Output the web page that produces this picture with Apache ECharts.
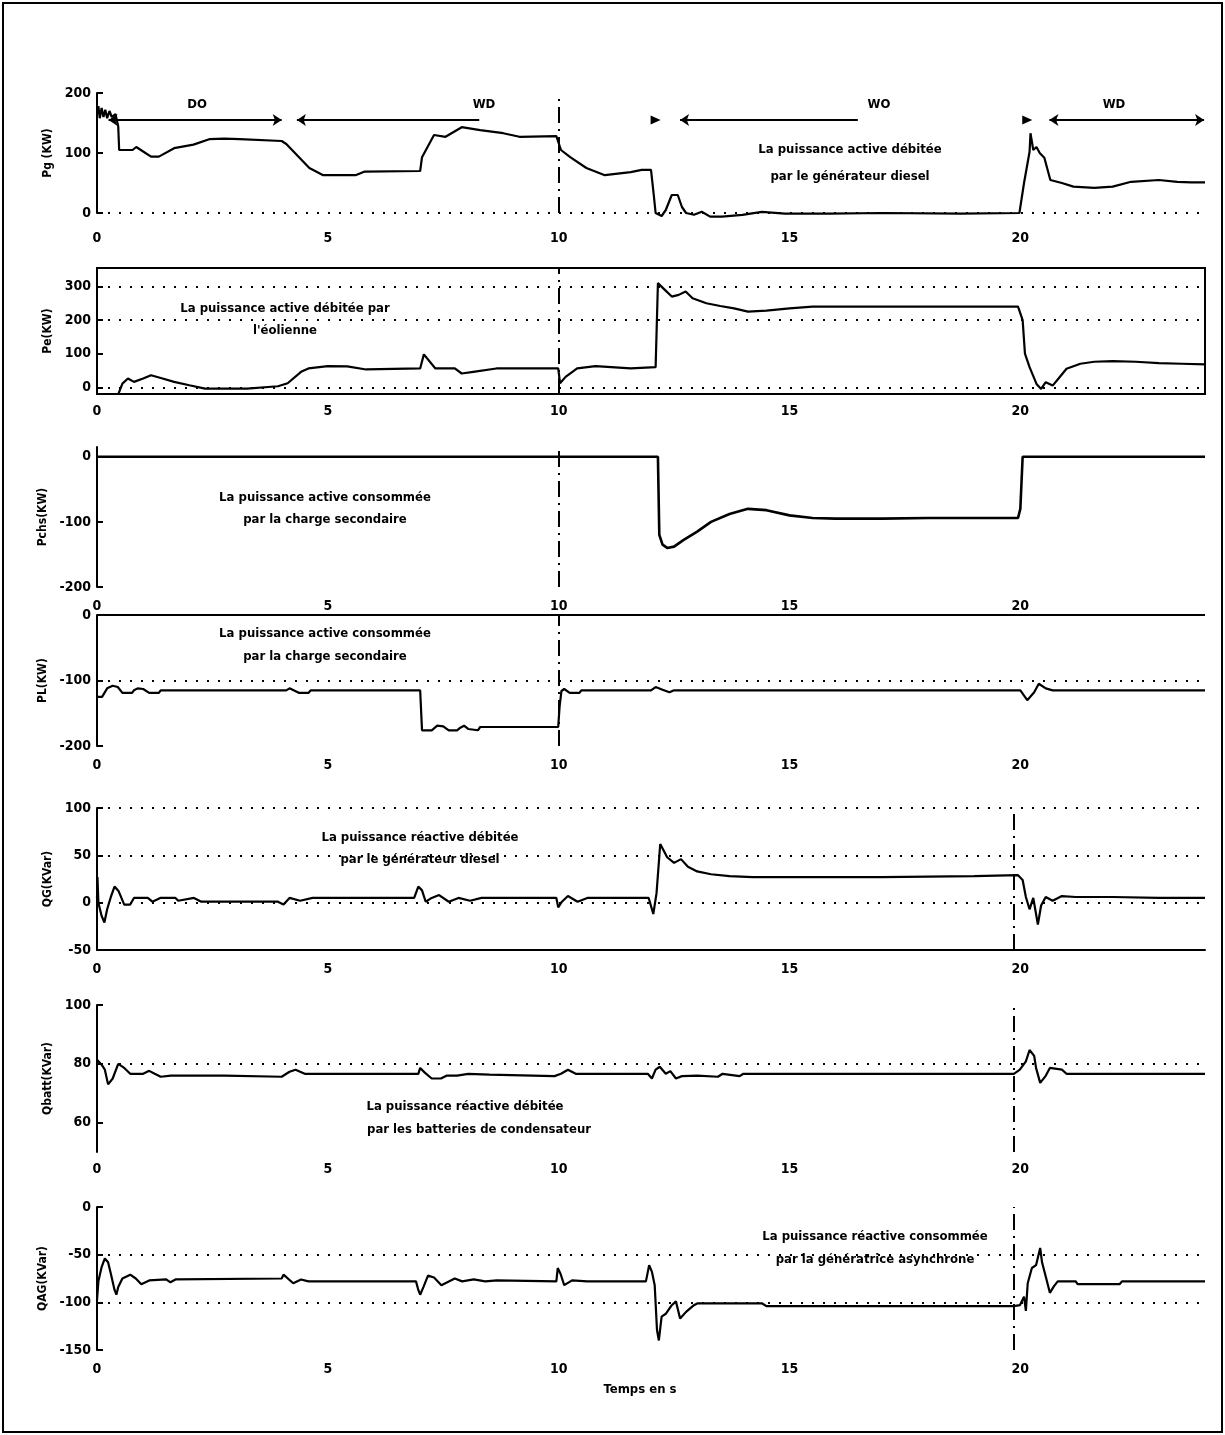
<!DOCTYPE html>
<html>
<head>
<meta charset="utf-8">
<title>Puissances actives et réactives</title>
<script src="https://cdn.jsdelivr.net/npm/echarts@6/dist/echarts.min.js"></script>
<style>
    html, body { margin: 0; padding: 0; background: #fff; }
    #main { width: 1225px; height: 1435px; }
</style>
</head>
<body>
<div id="main"></div>
<script>
// temps (s) et valeurs
var pgT = [0, 0.03, 0.06, 0.1, 0.14, 0.18, 0.22, 0.27, 0.32, 0.4, 0.46, 0.48, 0.55, 0.77, 0.85, 0.95, 1.17, 1.34, 1.67, 2.09, 2.43, 2.76, 3.09, 4.0, 4.1, 4.35, 4.6, 4.9, 5.6, 5.8, 7.0, 7.04, 7.3, 7.55, 7.9, 8.3, 8.8, 9.15, 9.95, 10.05, 10.25, 10.6, 11.0, 11.56, 11.8, 12.0, 12.06, 12.1, 12.23, 12.32, 12.45, 12.58, 12.67, 12.76, 12.93, 13.1, 13.28, 13.54, 13.98, 14.4, 14.9, 15.87, 17.0, 18.7, 19.98, 20.08, 20.2, 20.22, 20.28, 20.35, 20.42, 20.52, 20.65, 20.9, 21.15, 21.6, 22.0, 22.4, 23.0, 23.4, 23.7, 24.0];
var pgV = [165, 178, 158, 175, 160, 172, 158, 170, 160, 165, 144, 105, 105, 105, 110, 105, 94, 94, 108, 114, 123, 124, 123, 120, 115, 95, 75, 63, 63, 69, 70, 93, 130, 127, 143, 138, 133, 127, 128, 105, 93, 75, 63, 68, 72, 72, 30, 0, -5, 5, 30, 30, 10, 0, -3, 2, -6, -6, -3, 2, -1, -1, 0, -1, 0, 50, 102, 133, 105, 110, 100, 92, 55, 50, 44, 42, 44, 52, 55, 52, 51, 51];

var peT = [0, 0.46, 0.55, 0.67, 0.8, 1.0, 1.17, 1.42, 1.67, 2.0, 2.34, 3.25, 3.92, 4.13, 4.42, 4.58, 5.0, 5.42, 5.83, 7.0, 7.08, 7.33, 7.75, 7.9, 8.15, 8.65, 9.99, 10.03, 10.15, 10.4, 10.8, 11.56, 12.1, 12.15, 12.3, 12.45, 12.6, 12.75, 12.9, 13.2, 13.5, 13.8, 14.1, 14.5, 15.0, 15.5, 16.0, 18.0, 19.95, 20.05, 20.1, 20.2, 20.35, 20.45, 20.55, 20.7, 20.85, 21.0, 21.3, 21.6, 22.0, 22.5, 23.0, 23.5, 24.0];
var peV = [-60, -21, 11, 26, 16, 26, 36, 26, 16, 6, -4, -4, 3, 12, 46, 56, 63, 62, 53, 56, 98, 56, 56, 41, 46, 56, 56, 12, 31, 56, 63, 56, 60, 310, 290, 270, 275, 285, 265, 250, 242, 235, 225, 228, 235, 240, 240, 240, 240, 200, 100, 60, 10, -5, 15, 5, 30, 55, 70, 76, 78, 76, 72, 70, 68];

var pchT = [0, 12.15, 12.18, 12.25, 12.35, 12.5, 12.7, 13.0, 13.3, 13.7, 14.1, 14.5, 15.0, 15.5, 16.0, 17.0, 18.0, 19.0, 19.95, 20.0, 20.05, 24.0];
var pchV = [0, 0, -120, -135, -140, -138, -128, -115, -100, -88, -80, -82, -90, -94, -95, -95, -94, -94, -94, -80, 0, 0];

var plT = [0, 0.11, 0.22, 0.34, 0.45, 0.55, 0.76, 0.8, 0.88, 1.0, 1.13, 1.34, 1.38, 4.1, 4.17, 4.38, 4.58, 4.63, 7.0, 7.04, 7.25, 7.37, 7.5, 7.62, 7.8, 7.87, 7.95, 8.04, 8.25, 8.3, 9.99, 10.02, 10.06, 10.12, 10.24, 10.45, 10.49, 12.0, 12.1, 12.25, 12.4, 12.5, 20.0, 20.15, 20.3, 20.4, 20.55, 20.7, 24.0];
var plV = [-125, -125, -112, -108, -110, -119, -119, -115, -112, -113, -119, -119, -115, -115, -112, -119, -119, -115, -115, -176, -176, -169, -170, -176, -176, -172, -169, -174, -176, -171, -171, -140, -116, -113, -119, -119, -115, -115, -110, -114, -118, -115, -115, -130, -118, -105, -112, -115, -115];

var qgT = [0, 0.01, 0.03, 0.1, 0.16, 0.22, 0.3, 0.38, 0.47, 0.59, 0.72, 0.8, 1.1, 1.2, 1.37, 1.7, 1.76, 2.1, 2.26, 3.92, 4.04, 4.17, 4.4, 4.67, 6.87, 6.96, 7.04, 7.12, 7.25, 7.41, 7.62, 7.83, 8.08, 8.33, 9.95, 9.99, 10.07, 10.2, 10.41, 10.62, 11.95, 12.05, 12.12, 12.2, 12.35, 12.5, 12.65, 12.8, 13.0, 13.3, 13.7, 14.2, 15.0, 17.0, 19.0, 19.95, 20.05, 20.12, 20.2, 20.28, 20.38, 20.45, 20.55, 20.7, 20.9, 21.2, 22.0, 23.0, 24.0];
var qgV = [5, 27, 0, -14, -21, -7, 6, 17, 12, -2, -2, 5, 5, 1, 5, 5, 2, 5, 1, 1, -2, 5, 2, 5, 5, 17, 13, 1, 5, 8, 1, 5, 2, 5, 5, -5, 1, 7, 1, 5, 5, -12, 10, 62, 48, 42, 46, 38, 33, 30, 28, 27, 27, 27, 28, 29, 24, 6, -7, 5, -23, -3, 6, 2, 7, 6, 6, 5, 5];

var qbT = [0, 0.1, 0.17, 0.24, 0.34, 0.46, 0.59, 0.72, 1.0, 1.13, 1.25, 1.38, 1.6, 2.76, 4.0, 4.17, 4.3, 4.5, 6.96, 7.0, 7.1, 7.25, 7.45, 7.58, 7.8, 8.04, 8.5, 9.91, 10.05, 10.2, 10.37, 11.93, 12.02, 12.1, 12.19, 12.32, 12.42, 12.54, 12.67, 13.01, 13.45, 13.55, 13.92, 14.0, 19.04, 19.86, 19.99, 20.12, 20.2, 20.3, 20.34, 20.43, 20.55, 20.64, 20.9, 21.0, 24.0];
var qbV = [81.4, 79.7, 78, 73, 75, 80, 78.6, 76.6, 76.6, 77.6, 76.6, 75.6, 76, 76, 75.6, 77.3, 78, 76.6, 76.6, 78.6, 77, 75, 75, 76, 76, 76.6, 76.3, 75.8, 76.6, 78, 76.6, 76.6, 75, 78, 79, 76.6, 77.5, 75, 75.8, 76, 75.6, 76.6, 75.8, 76.6, 76.6, 76.6, 78, 80.8, 84.7, 82.7, 78.6, 73.5, 75.9, 78.6, 78, 76.6, 76.6];

var qagT = [0, 0.03, 0.1, 0.17, 0.24, 0.3, 0.38, 0.42, 0.46, 0.55, 0.72, 0.84, 0.96, 1.13, 1.5, 1.59, 1.7, 4.0, 4.04, 4.25, 4.42, 4.58, 6.91, 6.96, 7.0, 7.07, 7.17, 7.3, 7.46, 7.75, 7.91, 8.16, 8.41, 8.66, 9.95, 9.98, 10.04, 10.12, 10.29, 10.62, 11.89, 11.96, 12.02, 12.08, 12.13, 12.17, 12.23, 12.32, 12.45, 12.54, 12.63, 12.76, 12.93, 13.01, 14.4, 14.5, 19.86, 19.99, 20.08, 20.12, 20.16, 20.25, 20.34, 20.43, 20.47, 20.55, 20.64, 20.73, 20.81, 21.2, 21.24, 22.15, 22.2, 24.0];
var qagV = [-98, -78, -63, -54, -58, -70, -87, -92, -84, -75, -71, -75, -81, -77, -76, -79, -76, -75, -71, -80, -76, -78, -78, -87, -92, -84, -72, -74, -82, -75, -78, -76, -78, -77, -78, -64, -70, -82, -77, -78, -78, -61, -68, -82, -129, -140, -115, -112, -103, -99, -117, -110, -103, -101, -101, -104, -104, -103, -94, -109, -80, -64, -61, -43, -58, -73, -90, -83, -78, -78, -81, -81, -78, -78];

// graduations
var xTicks = [0, 5, 10, 15, 20];
var pgTicks = [0, 100, 200];
var peTicks = [0, 100, 200, 300];
var pchTicks = [-200, -100, 0];
var plTicks = [-200, -100, 0];
var qgTicks = [-50, 0, 50, 100];
var qbTicks = [60, 80, 100];
var qagTicks = [-150, -100, -50, 0];

// modes de fonctionnement (haut de la premiere courbe)
var modeNames = ['DO', 'WD', 'WO', 'WD'];

var FONT = '"Liberation Sans Narrow", "DejaVu Sans Condensed", "Liberation Sans", sans-serif';

$ready();

function $ready() {
    var myChart = echarts.init(document.getElementById('main'));

    var panels = [
        {t: pgT, v: pgV, ticks: pgTicks, name: 'Pg (KW)', top: 93, bottom: 213, min: 0, max: 200,
            dots: [0], vline: 10, xMargin: 18, clip: false},
        {t: peT, v: peV, ticks: peTicks, name: 'Pe(KW)', top: 268, bottom: 394, min: -20, max: 355,
            dots: [0, 200, 300], vline: 10, xMargin: 10, box: true},
        {t: pchT, v: pchV, ticks: pchTicks, name: 'Pchs(KW)', top: 447, bottom: 587, min: -200, max: 15,
            dots: [], vline: 10, xMargin: 12, width: 2.6},
        {t: plT, v: plV, ticks: plTicks, name: 'PL(KW)', top: 615, bottom: 746, min: -200, max: 0,
            dots: [-100], vline: 10, xMargin: 12, topLine: true},
        {t: qgT, v: qgV, ticks: qgTicks, name: 'QG(KVar)', top: 808, bottom: 950, min: -50, max: 100,
            dots: [0, 50, 100], vline: 19.85, xMargin: 12, xLine: true},
        {t: qbT, v: qbV, ticks: qbTicks, name: 'Qbatt(KVar)', top: 1005, bottom: 1152, min: 50, max: 100,
            dots: [80], vline: 19.85, xMargin: 10},
        {t: qagT, v: qagV, ticks: qagTicks, name: 'QAG(KVar)', top: 1207, bottom: 1350, min: -150, max: 0,
            dots: [-50, -100], vline: 19.85, xMargin: 12}
    ];

    var option = {
        animation: false,
        backgroundColor: '#fff',
        grid: [],
        xAxis: [],
        yAxis: [],
        series: [],
        graphic: []
    };

    panels.forEach(function (p, i) {
        option.grid.push({
            left: 97, width: 1108, top: p.top, height: p.bottom - p.top,
            show: !!p.box, borderColor: '#000', borderWidth: 2
        });
        option.xAxis.push({
            gridIndex: i, type: 'value', min: 0, max: 24,
            axisLine: {show: !!p.xLine, onZero: false, lineStyle: {color: '#000', width: 2}},
            axisTick: {show: false},
            splitLine: {show: false},
            axisLabel: {customValues: xTicks, margin: p.xMargin, color: '#000', fontSize: 14, fontWeight: 'bold', fontFamily: FONT}
        });
        option.yAxis.push({
            gridIndex: i, type: 'value', min: p.min, max: p.max,
            name: p.name, nameLocation: 'middle', nameGap: 31, nameRotate: 90,
            nameTextStyle: {color: '#000', fontSize: 12, fontWeight: 'bold', fontFamily: FONT},
            axisLine: {show: true, onZero: false, lineStyle: {color: '#000', width: 2}},
            axisTick: {show: true, inside: true, length: 6, customValues: p.ticks, lineStyle: {color: '#000', width: 2}},
            splitLine: {show: false},
            axisLabel: {customValues: p.ticks, margin: 6, color: '#000', fontSize: 14, fontWeight: 'bold', fontFamily: FONT}
        });

        var lines = p.dots.map(function (d) {
            return {yAxis: d, lineStyle: {color: '#000', width: 2, type: [2, 9]}};
        });
        lines.push({xAxis: p.vline, lineStyle: {color: '#000', width: 2, type: [16, 6, 2, 6]}});
        if (p.topLine) {
            lines.push({yAxis: 0, lineStyle: {color: '#000', width: 2, type: 'solid'}});
        }

        option.series.push({
            type: 'line',
            xAxisIndex: i,
            yAxisIndex: i,
            data: p.t.map(function (t, k) { return [t, p.v[k]]; }),
            showSymbol: false,
            clip: p.clip !== false,
            lineStyle: {color: '#000', width: p.width || 2.2},
            markLine: {silent: true, symbol: 'none', label: {show: false}, data: lines}
        });
    });

    // fleches des modes sur la premiere courbe
    var yArrow = 155;
    option.series.push({
        type: 'line',
        xAxisIndex: 0,
        yAxisIndex: 0,
        data: [],
        markLine: {
            silent: true,
            symbolSize: 9,
            label: {show: false},
            lineStyle: {color: '#000', width: 2, type: 'solid'},
            data: [
                [{coord: [0.25, yArrow], symbol: 'arrow'}, {coord: [4.0, yArrow], symbol: 'arrow'}],
                [{coord: [4.33, yArrow], symbol: 'arrow'}, {coord: [8.28, yArrow], symbol: 'none'}],
                [{coord: [12.63, yArrow], symbol: 'arrow'}, {coord: [16.48, yArrow], symbol: 'none'}],
                [{coord: [20.63, yArrow], symbol: 'arrow'}, {coord: [23.98, yArrow], symbol: 'arrow'}]
            ]
        },
        markPoint: {
            silent: true,
            symbol: 'triangle',
            symbolSize: [9, 10],
            symbolRotate: -90,
            label: {show: false},
            itemStyle: {color: '#000'},
            data: [{coord: [12.1, yArrow]}, {coord: [20.15, yArrow]}]
        }
    });

    var notes = [
        ['La puissance active débitée', 850, 150], ['par le générateur diesel', 850, 177],
        ['La puissance active débitée par', 285, 309], ["l'éolienne", 285, 331],
        ['La puissance active consommée', 325, 498], ['par la charge secondaire', 325, 520],
        ['La puissance active consommée', 325, 634], ['par la charge secondaire', 325, 657],
        ['La puissance réactive débitée', 420, 838], ['par le générateur diesel', 420, 860],
        ['La puissance réactive débitée', 465, 1107], ['par les batteries de condensateur', 479, 1130],
        ['La puissance réactive consommée', 875, 1237], ['par la génératrice asynchrone', 875, 1260],
        ['Temps en s', 640, 1390],
        [modeNames[0], 197, 105], [modeNames[1], 484, 105], [modeNames[2], 879, 105], [modeNames[3], 1114, 105]
    ];
    notes.forEach(function (n) {
        option.graphic.push({
            type: 'text', x: n[1], y: n[2], silent: true,
            style: {text: n[0], fill: '#000', fontSize: 13, fontWeight: 'bold', fontFamily: FONT, align: 'center', verticalAlign: 'middle'}
        });
    });

    option.graphic.push({
        type: 'rect', silent: true,
        shape: {x: 3, y: 3, width: 1219, height: 1429},
        style: {fill: 'none', stroke: '#000', lineWidth: 2}
    });

    myChart.setOption(option);
}
</script>
</body>
</html>
